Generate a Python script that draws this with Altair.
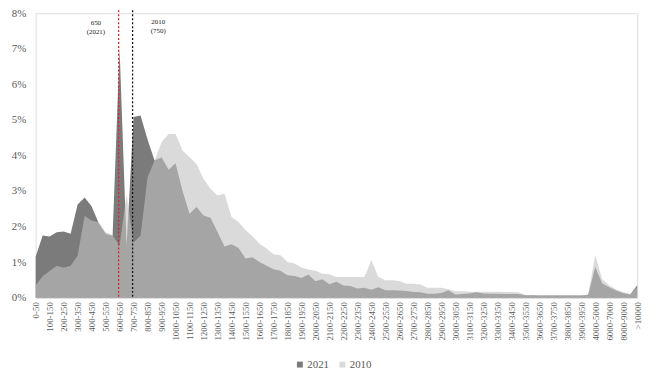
import altair as alt
import pandas as pd

categories = [
    "0-50", "50-100", "100-150", "150-200", "200-250", "250-300", "300-350", "350-400",
    "400-450", "450-500", "500-550", "550-600", "600-650", "650-700", "700-750", "750-800",
    "800-850", "850-900", "900-950", "950-1000", "1000-1050", "1050-1100", "1100-1150", "1150-1200",
    "1200-1250", "1250-1300", "1300-1350", "1350-1400", "1400-1450", "1450-1500", "1500-1550", "1550-1600",
    "1600-1650", "1650-1700", "1700-1750", "1750-1800", "1800-1850", "1850-1900", "1900-1950", "1950-2000",
    "2000-2050", "2050-2100", "2100-2150", "2150-2200", "2200-2250", "2250-2300", "2300-2350", "2350-2400",
    "2400-2450", "2450-2500", "2500-2550", "2550-2600", "2600-2650", "2650-2700", "2700-2750", "2750-2800",
    "2800-2850", "2850-2900", "2900-2950", "2950-3000", "3000-3050", "3050-3100", "3100-3150", "3150-3200",
    "3200-3250", "3250-3300", "3300-3350", "3350-3400", "3400-3450", "3450-3500", "3500-3550", "3550-3600",
    "3600-3650", "3650-3700", "3700-3750", "3750-3800", "3800-3850", "3850-3900", "3900-3950", "3950-4000",
    "4000-5000", "5000-6000", "6000-7000", "7000-8000", "8000-9000", "9000-10000", ">10000",
]

share_2021 = [
    1.15, 1.75, 1.72, 1.84, 1.86, 1.80, 2.62, 2.82, 2.57, 2.10, 1.80, 1.74, 7.00, 1.45, 5.08, 5.12,
    4.45, 3.86, 3.95, 3.60, 3.78, 3.00, 2.36, 2.55, 2.31, 2.25, 1.85, 1.44, 1.50, 1.40, 1.10, 1.14,
    1.00, 0.90, 0.80, 0.76, 0.63, 0.61, 0.55, 0.65, 0.46, 0.52, 0.38, 0.45, 0.34, 0.33, 0.26, 0.28,
    0.22, 0.29, 0.21, 0.21, 0.20, 0.19, 0.16, 0.15, 0.11, 0.11, 0.13, 0.21, 0.09, 0.10, 0.12, 0.15,
    0.12, 0.11, 0.11, 0.10, 0.10, 0.10, 0.07, 0.07, 0.06, 0.06, 0.06, 0.06, 0.06, 0.06, 0.06, 0.08,
    0.86, 0.40, 0.29, 0.20, 0.13, 0.09, 0.35,
]

share_2010 = [
    0.34, 0.60, 0.75, 0.90, 0.84, 0.90, 1.18, 2.30, 2.17, 2.12, 1.85, 1.75, 1.46, 2.90, 1.55, 1.75,
    3.39, 3.86, 4.37, 4.60, 4.60, 4.14, 3.95, 3.76, 3.34, 3.06, 2.87, 2.92, 2.27, 2.13, 1.90, 1.73,
    1.52, 1.38, 1.22, 1.19, 1.00, 0.96, 0.85, 0.79, 0.76, 0.67, 0.66, 0.58, 0.58, 0.58, 0.58, 0.58,
    1.05, 0.58, 0.49, 0.49, 0.47, 0.39, 0.39, 0.37, 0.28, 0.28, 0.28, 0.24, 0.18, 0.18, 0.17, 0.17,
    0.17, 0.17, 0.17, 0.16, 0.16, 0.15, 0.08, 0.07, 0.07, 0.07, 0.07, 0.07, 0.07, 0.07, 0.07, 0.09,
    1.19, 0.52, 0.35, 0.23, 0.15, 0.10, 0.30,
]

series_names = ["2021", "2010"]
series_colors = ["#7b7b7b", "#d9d9d9"]
y_ticks = [0, 0.01, 0.02, 0.03, 0.04, 0.05, 0.06, 0.07, 0.08]

median_cats = ["600-650", "700-750"]
median_colors = ["#e02020", "#111111"]
median_texts = ["650\n(2021)", "2010\n(750)"]

rows = []
for c, a, b in zip(categories, share_2021, share_2010):
    rows.append({"cat": c, "series": "2021", "value": a / 100})
    rows.append({"cat": c, "series": "2010", "value": b / 100})
df = pd.DataFrame(rows)

rules_df = pd.DataFrame({"cat": median_cats, "color": median_colors, "label": median_texts})

FONT = "Liberation Serif"
GREY = "#595959"

xscale = alt.Scale(type="point", padding=0, domain=categories)
x_enc = alt.X(
    "cat:N", scale=xscale,
    axis=alt.Axis(values=categories[::2], labelAngle=-90, labelFontSize=9, labelColor=GREY,
                  labelFont=FONT, ticks=False, domainColor="#d9d9d9", title=None,
                  labelPadding=4, labelOverlap=False),
)
y_axis = alt.Axis(values=y_ticks, tickCount=9, format=".0%", grid=False, domain=False, ticks=False,
                  labelFont=FONT, labelFontSize=11, labelColor=GREY, labelPadding=10, title=None,
                  labelOverlap=False, labelFlush=False)
y_enc = alt.Y("value:Q", scale=alt.Scale(domain=[0, 0.08], nice=False), axis=y_axis)

base = alt.Chart(df)
area21 = base.transform_filter(alt.datum.series == "2021").mark_area(color="#7b7b7b").encode(x=x_enc, y=y_enc)
area10 = base.transform_filter(alt.datum.series == "2010").mark_area(color="#c1c1c1", opacity=0.6).encode(x=x_enc, y=y_enc)

legend_layer = base.mark_point(filled=True, opacity=0, shape="square").encode(
    x=x_enc, y=y_enc,
    color=alt.Color("series:N", scale=alt.Scale(domain=series_names, range=series_colors),
                    legend=alt.Legend(title=None, orient="none", legendX=262, legendY=350,
                                      direction="horizontal", symbolType="square", symbolSize=36,
                                      symbolOpacity=1, symbolStrokeWidth=0, labelFont=FONT,
                                      labelFontSize=11, labelColor=GREY, columnPadding=8, labelOffset=2)),
)

rules_base = alt.Chart(rules_df)
rules = rules_base.mark_rule(strokeDash=[2, 2], strokeWidth=1.3, xOffset=-1).encode(
    x=alt.X("cat:N", scale=xscale),
    y=alt.YDatum(0.0808, axis=y_axis), y2=alt.datum(0),
    color=alt.Color("color:N", scale=None),
)
text_red = rules_base.transform_filter(alt.datum.cat == "600-650").mark_text(
    font=FONT, fontSize=7, lineBreak="\n", lineHeight=9, baseline="middle", color="#222222", dx=-24
).encode(x=alt.X("cat:N", scale=xscale), y=alt.YDatum(0.0772, axis=y_axis), text="label:N")
text_black = rules_base.transform_filter(alt.datum.cat == "700-750").mark_text(
    font=FONT, fontSize=7, lineBreak="\n", lineHeight=9, baseline="middle", color="#222222", dx=25
).encode(x=alt.X("cat:N", scale=xscale), y=alt.YDatum(0.0774, axis=y_axis), text="label:N")

chart = alt.layer(area21, area10, legend_layer, rules, text_red, text_black).properties(
    width=609, height=288, autosize="none",
    padding={"left": 28, "top": 3, "right": 15, "bottom": 75},
).configure_view(stroke=None).configure_axis(labelOverlap=False).configure(background="white")

chart.save("out.html", embed_options={"renderer": "svg", "actions": False})
